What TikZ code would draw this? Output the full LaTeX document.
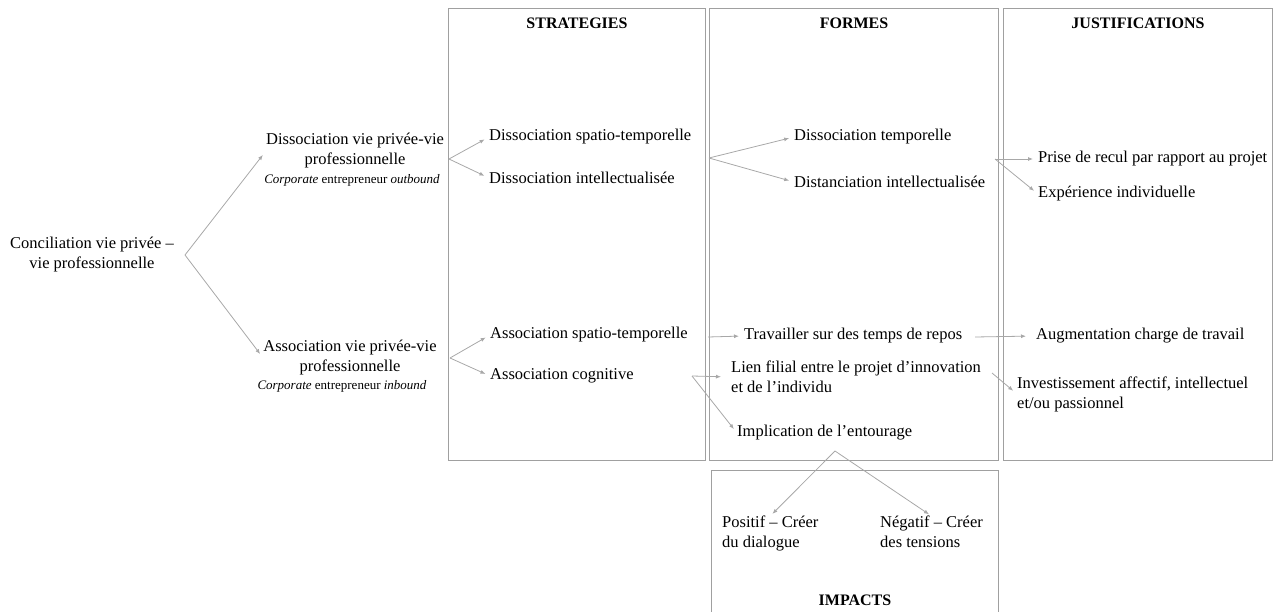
\documentclass[tikz,border=0pt]{standalone}
\usepackage{fontspec}
\setmainfont{Liberation Serif}
\usetikzlibrary{arrows.meta,calc,positioning}
\definecolor{boxgray}{RGB}{160,160,160}
\definecolor{linegray}{RGB}{168,168,168}
\tikzset{pin/.style={draw=linegray, line width=0.8pt, -{Latex[length=5pt,width=4pt]}, shorten >=5pt},
  col/.style={draw=boxgray, line width=1.3pt, anchor=north west, inner sep=0pt},
  txt/.style={inner sep=0pt, font=\fontsize{16.5}{20}\selectfont, align=left},
  sub/.style={inner sep=0pt, font=\fontsize{13}{15}\selectfont},
  hd/.style={inner sep=0pt, font=\fontsize{16}{20}\selectfont\bfseries}}

\begin{document}
\begin{tikzpicture}[x=1pt, y=-1pt]
  \useasboundingbox (0,0) rectangle (1275,612);
  % columns
  \node[col, minimum width=257pt, minimum height=452pt] (strat) at (448,8) {};
  \node[col, minimum width=289pt, minimum height=452pt] (formes) at (709,8) {};
  \node[col, minimum width=269pt, minimum height=452pt] (justif) at (1003,8) {};
  \node[col, minimum width=287pt, minimum height=150pt] (impacts) at (711,470) {};
  \node[hd] (hstrat) at (577,23) {STRATEGIES};
  \node[hd] (hformes) at (854,23) {FORMES};
  \node[hd] (hjustif) at (1138,23) {JUSTIFICATIONS};
  \node[hd] (himpacts) at (855,600) {IMPACTS};
  % root and the two branches
  \node[txt, align=center] (conc) at (92,255) {Conciliation vie privée –\\vie professionnelle};
  \node[txt, align=center] (dis) at (355,151) {Dissociation vie privée-vie\\professionnelle};
  \node[sub] (dissub) at (352,180) {\textit{Corporate} entrepreneur \textit{outbound}};
  \node[txt, align=center] (ass) at (350,358) {Association vie privée-vie\\professionnelle};
  \node[sub] (asssub) at (342,386) {\textit{Corporate} entrepreneur \textit{inbound}};
  % strategies
  \node[txt, anchor=west] (dst) at (489,137) {Dissociation spatio-temporelle};
  \node[txt, anchor=west] (dint) at (489,178) {Dissociation intellectualisée};
  \node[txt, anchor=west] (ast) at (490,335) {Association spatio-temporelle};
  \node[txt, anchor=west] (acog) at (490,376) {Association cognitive};
  % formes
  \node[txt, anchor=west] (dtemp) at (794,137) {Dissociation temporelle};
  \node[txt, anchor=west] (dist) at (794,182) {Distanciation intellectualisée};
  \node[txt, anchor=west] (trav) at (744,336) {Travailler sur des temps de repos};
  \node[txt, anchor=west] (lien) at (731,377) {Lien filial entre le projet d’innovation\\et de l’individu};
  \node[txt, anchor=west] (impl) at (737,433) {Implication de l’entourage};
  % justifications
  \node[txt, anchor=west] (prise) at (1038,159) {Prise de recul par rapport au projet};
  \node[txt, anchor=west] (exp) at (1038,194) {Expérience individuelle};
  \node[txt, anchor=west] (aug) at (1036,336) {Augmentation charge de travail};
  \node[txt, anchor=west] (inv) at (1017,394) {Investissement affectif, intellectuel\\et/ou passionnel};
  % impacts
  \node[txt, anchor=north west] (pos) at (722,516) {Positif – Créer\\du dialogue};
  \node[txt, anchor=north west] (neg) at (880,516) {Négatif – Créer\\des tensions};
  % fork points
  \coordinate (fc) at (185,255);
  \coordinate (fd) at (449,159);
  \coordinate (fa) at (450,358);
  \coordinate (ff) at (709,158);
  \coordinate (fj) at (995,159);
  \coordinate (ft) at (708,337);
  \coordinate (fr) at (975,337);
  \coordinate (fg) at (692,376);
  \coordinate (fl) at (992,373);
  \coordinate (fi) at (835,451);
  % connectors
  \draw[pin] (fc) -- (dis.west);
  \draw[pin] (fc) -- (ass.west);
  \draw[pin] (fd) -- (dst.west);
  \draw[pin] (fd) -- (dint.west);
  \draw[pin] (fa) -- (ast.west);
  \draw[pin] (fa) -- (acog.west);
  \draw[pin] (ff) -- (dtemp.west);
  \draw[pin] (ff) -- (dist.west);
  \draw[pin] (fj) -- (prise.west);
  \draw[pin] (fj) -- (exp.west);
  \draw[pin] (ft) -- (trav.west);
  \draw[pin, shorten >=10pt] (fr) -- (aug.west);
  \draw[pin, shorten >=10pt] (fg) -- (lien.west);
  \draw[pin] (fg) -- (impl.west);
  \draw[pin] (fl) -- (inv.west);
  \draw[pin, shorten >=3pt] (fi) -- (pos.north);
  \draw[pin, shorten >=3pt] (fi) -- (neg.north);
\end{tikzpicture}
\end{document}
